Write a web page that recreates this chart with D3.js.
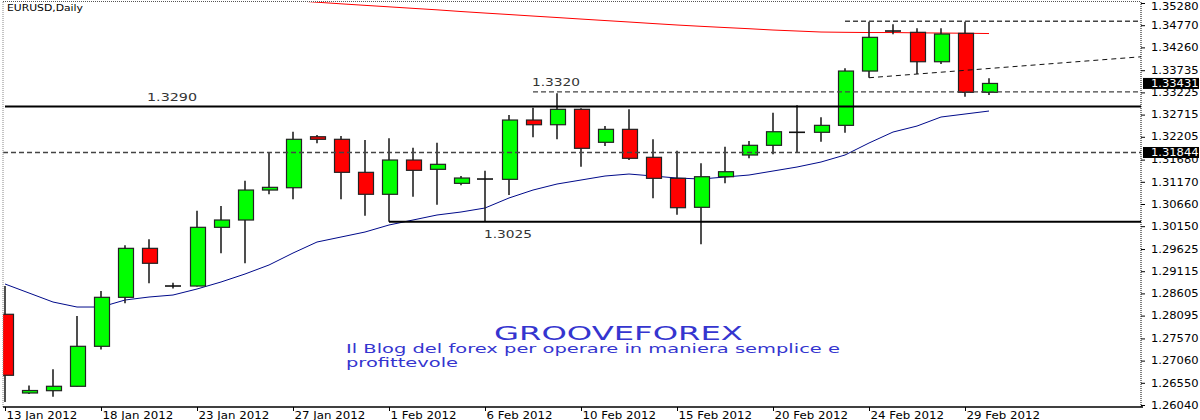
<!DOCTYPE html>
<html><head><meta charset="utf-8">
<script src="https://cdn.jsdelivr.net/npm/d3@7"></script>
<style>body{margin:0;background:#fff}svg{display:block}</style>
</head><body><svg id="c" width="1200" height="420"></svg>
<script>
// ---- data (EURUSD daily, Sunday bars included) ----
const dates = ["13 Jan 2012","15 Jan 2012","16 Jan 2012","17 Jan 2012","18 Jan 2012","19 Jan 2012","20 Jan 2012",
"22 Jan 2012","23 Jan 2012","24 Jan 2012","25 Jan 2012","26 Jan 2012","27 Jan 2012","29 Jan 2012","30 Jan 2012",
"31 Jan 2012","1 Feb 2012","2 Feb 2012","3 Feb 2012","5 Feb 2012","6 Feb 2012","7 Feb 2012","8 Feb 2012","9 Feb 2012",
"10 Feb 2012","12 Feb 2012","13 Feb 2012","14 Feb 2012","15 Feb 2012","16 Feb 2012","17 Feb 2012","19 Feb 2012",
"20 Feb 2012","21 Feb 2012","22 Feb 2012","23 Feb 2012","24 Feb 2012","26 Feb 2012","27 Feb 2012","28 Feb 2012",
"29 Feb 2012","1 Mar 2012"];
const open  = [1.28125,1.26316,1.26369,1.26470,1.27389,1.28515,1.29641,1.28775,1.28775,1.30124,1.30292,1.30981,1.31034,1.32206,
1.32147,1.31388,1.30883,1.31671,1.31457,1.31135,1.31234,1.31227,1.32590,1.32482,1.32836,1.32078,1.32376,1.31733,1.31250,1.30584,
1.31287,1.31786,1.32009,1.32308,1.32308,1.32468,1.33716,1.34636,1.34606,1.33930,1.34583,1.33227];
const high  = [1.28775,1.26488,1.26861,1.28086,1.28660,1.29710,1.29848,1.28851,1.30506,1.30614,1.31195,1.31839,1.32321,1.32245,
1.32222,1.32130,1.32170,1.31954,1.32068,1.31303,1.31425,1.32705,1.32873,1.33204,1.32859,1.32452,1.32836,1.32147,1.31885,1.31595,
1.31977,1.32108,1.32758,1.32928,1.32652,1.33778,1.34849,1.34790,1.34698,1.34698,1.34849,1.33549];
const low   = [1.26109,1.26293,1.26231,1.26465,1.27316,1.28377,1.28837,1.28718,1.28764,1.29527,1.29297,1.30883,1.30768,1.32055,
1.30768,1.30391,1.30253,1.30827,1.30644,1.31089,1.30253,1.30866,1.32193,1.32147,1.31517,1.31993,1.31671,1.30791,1.30414,1.29733,
1.31135,1.31710,1.31802,1.31839,1.32091,1.32298,1.33562,1.34560,1.33647,1.33877,1.33126,1.33165];
const close = [1.26723,1.26373,1.26470,1.27389,1.28515,1.29641,1.29297,1.28775,1.30124,1.30292,1.30981,1.31043,1.32147,1.32147,
1.31388,1.30883,1.31671,1.31434,1.31572,1.31257,1.31234,1.32590,1.32482,1.32836,1.31940,1.32376,1.31710,1.31250,1.30575,1.31287,
1.31402,1.32009,1.32321,1.32308,1.32468,1.33716,1.34491,1.34636,1.33930,1.34567,1.33227,1.33431];
// fast moving average (blue)
const maFast = [1.28821,1.28614,1.28407,1.28292,1.28292,1.28453,1.28522,1.28568,1.28706,1.28867,1.29051,1.29258,1.29533,1.29786,
1.29901,1.30016,1.30177,1.30292,1.30407,1.30476,1.30568,1.30798,1.30981,1.31119,1.31211,1.31303,1.31349,1.31303,1.31257,1.31234,
1.31280,1.31326,1.31418,1.31510,1.31625,1.31786,1.32062,1.32314,1.32452,1.32659,1.32728,1.32797];
// slow moving average (red), from bar 12 on
const maSlowStart = 12;
const maSlow = [1.35337,1.35298,1.35261,1.35226,1.35192,1.35157,1.35123,1.35084,1.35049,1.35015,1.34980,1.34946,1.34911,1.34877,
1.34843,1.34808,1.34774,1.34744,1.34716,1.34689,1.34659,1.34636,1.34613,1.34606,1.34601,1.34601,1.34594,1.34590,1.34585,1.34578];
const yTicks = [1.35280,1.34770,1.34260,1.33735,1.33225,1.32715,1.32205,1.31680,1.31170,1.30660,1.30150,1.29625,1.29115,
1.28605,1.28095,1.27570,1.27060,1.26550,1.26040];
const xTickIdx = [0,4,8,12,16,20,24,28,32,36,40];
const priceMarks = [1.33431, 1.31844];
// drawn objects
const levelSolid = [{p:1.3290, from:0, label:"1.3290"}, {p:1.3025, from:16, label:"1.3025"}];
const levelDash  = [{p:1.31844, from:-1}, {p:1.33235, from:22, label:"1.3320"}, {p:1.34860, from:35}];
const trendDash  = [{i1:36, p1:1.33562, i2:38, p2:1.33647}];

// ---- layout ----
const svg = d3.select("#c");
const L = 3, R = 1141, T = 2, B = 407;
const x = d3.scaleLinear().domain([0, 41]).range([5, 989]);
const y = d3.scaleLinear().domain([1.2604, 1.3528]).range([405, 3]);
const FONT = "DejaVu Sans, Verdana, sans-serif";
const stretch = (sel, k) => sel.each(function(){ const w = this.getComputedTextLength(); d3.select(this).attr("textLength", w*k).attr("lengthAdjust","spacingAndGlyphs"); });

svg.append("defs").append("clipPath").attr("id","clip").append("rect").attr("x",L).attr("y",T).attr("width",R-L).attr("height",B-T);
const plot = svg.append("g").attr("clip-path","url(#clip)");

// frame
svg.append("line").attr("x1",L).attr("x2",L).attr("y1",T).attr("y2",B).attr("stroke","#888").attr("stroke-dasharray","1,1");
svg.append("line").attr("x1",L).attr("x2",R).attr("y1",1.5).attr("y2",1.5).attr("stroke","#555").attr("stroke-dasharray","1,1");

// moving averages
const idx = d3.range(open.length);
plot.append("path").datum(idx).attr("fill","none").attr("stroke","#000a8a").attr("stroke-width",1)
  .attr("d", d3.line().x(i=>x(i)).y(i=>y(maFast[i])));
plot.append("path").datum(d3.range(maSlow.length)).attr("fill","none").attr("stroke","#ff0000").attr("stroke-width",1)
  .attr("d", d3.line().x(j=>x(j+maSlowStart)).y(j=>y(maSlow[j])));

// candles
const bw = 15;
plot.selectAll("line.wick").data(idx).join("line").attr("class","wick")
  .attr("x1",i=>x(i)).attr("x2",i=>x(i)).attr("y1",i=>y(high[i])).attr("y2",i=>y(low[i]))
  .attr("stroke","#222").attr("stroke-width",1.6);
plot.selectAll("rect.body").data(idx.filter(i=>open[i]!==close[i])).join("rect").attr("class","body")
  .attr("x",i=>Math.round(x(i)-bw/2)+0.5).attr("width",bw)
  .attr("y",i=>y(Math.max(open[i],close[i]))).attr("height",i=>Math.abs(y(open[i])-y(close[i])))
  .attr("fill",i=>close[i]>open[i]?"#00ff00":"#ff0000").attr("stroke","#222").attr("stroke-width",1.2);
plot.selectAll("line.doji").data(idx.filter(i=>open[i]===close[i])).join("line").attr("class","doji")
  .attr("x1",i=>x(i)-bw/2-0.5).attr("x2",i=>x(i)+bw/2+0.5).attr("y1",i=>y(open[i])).attr("y2",i=>y(open[i]))
  .attr("stroke","#111").attr("stroke-width",1.6);

// objects
levelSolid.forEach(o=>{
  plot.append("line").attr("x1", x(o.from)).attr("x2",R).attr("y1",y(o.p)).attr("y2",y(o.p)).attr("stroke","#000").attr("stroke-width",2);
});
levelDash.forEach(o=>{
  plot.append("line").attr("x1", o.from<0?L:x(o.from)).attr("x2",R).attr("y1",y(o.p)).attr("y2",y(o.p))
    .attr("stroke","#444").attr("stroke-width",1.3).attr("stroke-dasharray","5,3");
});
trendDash.forEach(o=>{
  const s = (o.p2-o.p1)/(o.i2-o.i1), iEnd = x.invert(R);
  plot.append("line").attr("x1",x(o.i1)).attr("y1",y(o.p1)).attr("x2",R).attr("y2",y(o.p1+s*(iEnd-o.i1)))
    .attr("stroke","#111").attr("stroke-width",1).attr("stroke-dasharray","5,4");
});

// annotation labels
const ann = svg.append("g").attr("font-family",FONT).attr("font-size",11).attr("fill","#333");
ann.append("text").attr("x",147).attr("y",y(1.3290)-6).text(levelSolid[0].label).attr("textLength",50).attr("lengthAdjust","spacingAndGlyphs");
ann.append("text").attr("x",532).attr("y",y(1.33235)-6).text(levelDash[1].label).attr("textLength",48).attr("lengthAdjust","spacingAndGlyphs");
ann.append("text").attr("x",484).attr("y",y(1.3025)+16).text(levelSolid[1].label).attr("textLength",48).attr("lengthAdjust","spacingAndGlyphs");

svg.append("text").attr("x",7).attr("y",11).attr("font-family",FONT).attr("font-size",9.5).attr("fill","#000")
  .text("EURUSD,Daily").attr("textLength",76).attr("lengthAdjust","spacingAndGlyphs");

const blue = "#3535cf";
svg.append("text").attr("x",494).attr("y",340).attr("font-family",FONT).attr("font-size",19).attr("fill",blue)
  .text("GROOVEFOREX").attr("textLength",249).attr("lengthAdjust","spacingAndGlyphs");
svg.append("text").attr("x",346).attr("y",353).attr("font-family",FONT).attr("font-size",11.5).attr("fill",blue)
  .text("Il Blog del forex per operare in maniera semplice e").attr("textLength",494).attr("lengthAdjust","spacingAndGlyphs");
svg.append("text").attr("x",346).attr("y",367).attr("font-family",FONT).attr("font-size",11.5).attr("fill",blue)
  .text("profittevole").attr("textLength",112).attr("lengthAdjust","spacingAndGlyphs");

// y axis
const ya = svg.append("g").attr("transform",`translate(${R},0)`)
  .call(d3.axisRight(y).tickValues(yTicks).tickSize(4).tickPadding(6).tickFormat(d3.format(".5f")));
ya.select(".domain").remove();
ya.append("line").attr("x1",0).attr("x2",0).attr("y1",T).attr("y2",B).attr("stroke","#777").attr("stroke-dasharray","1,1");
ya.selectAll("line").attr("stroke","#000");
ya.selectAll("text").attr("font-family",FONT).attr("font-size",10).attr("fill","#000").call(stretch,1.15);
ya.selectAll(".tick text").filter(d=>y(d)<6).attr("dy","0.6em");
// price marks
const pm = ya.selectAll("g.pm").data(priceMarks).join("g").attr("class","pm").attr("transform",d=>`translate(0,${y(d)})`);
pm.append("rect").attr("x",2).attr("y",-5.5).attr("width",56).attr("height",11).attr("fill","#000");
pm.append("text").attr("x",10).attr("dy","0.32em").attr("font-family",FONT).attr("font-size",10).attr("fill","#fff")
  .text(d=>d3.format(".5f")(d)).call(stretch,1.15);

// x axis
const xa = svg.append("g").attr("transform",`translate(0,${B})`)
  .call(d3.axisBottom(x).tickValues(xTickIdx).tickSize(4).tickPadding(1).tickFormat(i=>dates[i]));
xa.select(".domain").remove();
xa.append("line").attr("x1",L).attr("x2",R+2).attr("y1",0).attr("y2",0).attr("stroke","#000").attr("stroke-width",1.5);
xa.selectAll(".tick line").attr("stroke","#000");
xa.selectAll("text").attr("text-anchor","start").attr("x",1).attr("font-family",FONT).attr("font-size",10).attr("fill","#000").call(stretch,1.18);
</script></body></html>
